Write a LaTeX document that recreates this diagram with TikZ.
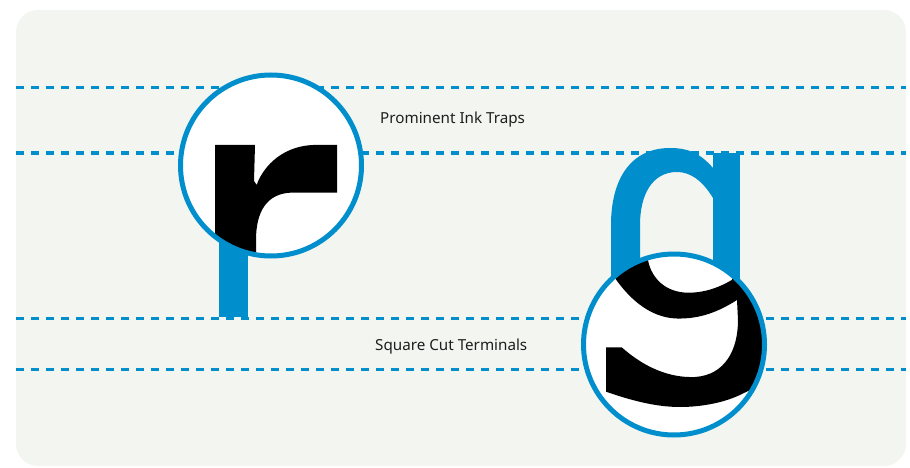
\documentclass[tikz,border=0pt]{standalone}
\usepackage{fontspec}
\newfontfamily\lblfont{Noto Sans}
\definecolor{inkblue}{RGB}{0,143,204}
\definecolor{panel}{RGB}{243,245,241}
\definecolor{lbltext}{RGB}{30,30,30}
\begin{document}
\begin{tikzpicture}[x=1pt,y=-1pt,
  guide/.style={draw=inkblue,line width=3pt,dash pattern=on 7.5pt off 7.5pt},
  lensring/.style={draw=inkblue,line width=5pt},
  lbl/.style={font=\lblfont\fontsize{15.2}{18}\selectfont,text=lbltext,inner sep=0pt,anchor=base west}]
\useasboundingbox (0,0) rectangle (910,468);
% panel
\fill[panel,rounded corners=22pt] (16,10) rectangle (906,466);
% guide lines
\begin{scope}
\clip[rounded corners=22pt] (16,10) rectangle (906,466);
\draw[guide] (16,88) -- (906,88);
\draw[guide] (16,153) -- (906,153);
\draw[guide] (16,318) -- (906,318);
\draw[guide] (16,369) -- (906,369);
\end{scope}
% blue r stem
\fill[inkblue] (219,230) rectangle (248,317);
% blue g
\fill[inkblue] (713,168) .. controls (700,153) and (688,148) .. (670,148)
  .. controls (630,148) and (611,180) .. (611,225) -- (611,320) -- (640,320)
  -- (640,225) .. controls (640,195) and (652,172) .. (677,172)
  .. controls (690,172) and (702,180) .. (713,198) -- cycle;
\fill[inkblue] (713,153) rectangle (740,330);
% lens r
\fill[white] (271,165.5) circle (90.5);
\begin{scope}
\clip (271,165.5) circle (90.5);
\fill[black] (215,145) -- (255,145) -- (254,181) -- (256.7,185) -- (258.3,180.7)
  .. controls (268,160) and (288,146) .. (313,145) -- (337,145) -- (337,192.7)
  -- (290,192.7) .. controls (268,194) and (256,210) .. (256,240) -- (256,270)
  -- (215,270) -- cycle;
\end{scope}
\draw[lensring] (271,165.5) circle (90.5);
% lens g
\fill[white] (674,344.5) circle (90.5);
\begin{scope}
\clip (674,344.5) circle (90.5);
\fill[black] (606,347.3) -- (621.7,347.3)
  .. controls (645,368) and (670,378) .. (695,377)
  .. controls (725,375) and (738,350) .. (738,320) -- (737,300)
  .. controls (718,312) and (700,319) .. (677,318.5)
  .. controls (650,318) and (625,298) .. (605,262)
  -- (590,240) -- (645,240) -- (648.3,261.7)
  .. controls (652,278) and (665,292) .. (687,292.7)
  .. controls (705,293) and (720,287) .. (731.7,280)
  -- (745,260) -- (800,260) -- (800,460) -- (765,383) -- (743.3,393.3)
  .. controls (725,403) and (700,407) .. (680,407)
  .. controls (655,407) and (630,400) .. (606,391.7) -- cycle;
\end{scope}
\draw[lensring] (674,344.5) circle (90.5);
% labels
\node[lbl] (traps) at (380,123.3) {Prominent Ink Traps};
\node[lbl] (terms) at (375,350.7) {Square Cut Terminals};
\end{tikzpicture}
\end{document}
